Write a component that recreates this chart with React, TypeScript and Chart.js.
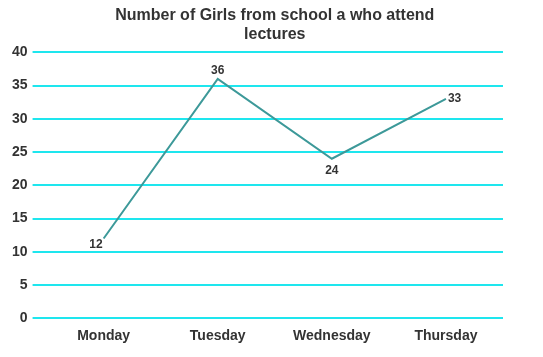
import React, { useEffect, useRef } from "react";
import { Chart, registerables } from "chart.js";

Chart.register(...registerables);

const titleLines = ["Number of Girls from school a who attend", "lectures"];
const days = ["Monday", "Tuesday", "Wednesday", "Thursday"];
const girls = [12, 36, 24, 33];
const labelPlacement = ["left", "top", "bottom", "right"];

const textColor = "#333333";
const fontFamily = "'Liberation Sans', Arial, sans-serif";

const valueLabels = {
  id: "valueLabels",
  afterDatasetsDraw(chart: any) {
    const ctx = chart.ctx;
    const meta = chart.getDatasetMeta(0);
    ctx.save();
    ctx.font = `bold 12px ${fontFamily}`;
    ctx.fillStyle = textColor;
    meta.data.forEach((pt: any, i: number) => {
      const v = String(chart.data.datasets[0].data[i]);
      const p = labelPlacement[i];
      let x = pt.x;
      let y = pt.y;
      if (p === "left") {
        ctx.textAlign = "right";
        ctx.textBaseline = "middle";
        x -= 1;
        y += 6;
      } else if (p === "top") {
        ctx.textAlign = "center";
        ctx.textBaseline = "bottom";
        y -= 2;
      } else if (p === "bottom") {
        ctx.textAlign = "center";
        ctx.textBaseline = "top";
        y += 6;
      } else {
        ctx.textAlign = "left";
        ctx.textBaseline = "middle";
        x += 2;
      }
      ctx.fillText(v, x, y);
    });
    ctx.restore();
  },
};

export default function App() {
  const ref = useRef<HTMLCanvasElement>(null);
  useEffect(() => {
    document.body.style.margin = "0";
    const chart = new Chart(ref.current!, {
      type: "line",
      data: {
        labels: days,
        datasets: [
          {
            data: girls,
            borderColor: "#3d9999",
            borderWidth: 2,
            pointRadius: 0,
            tension: 0,
            fill: false,
          },
        ],
      },
      options: {
        animation: false,
        responsive: false,
        layout: { padding: { left: 7, right: 40, top: 0, bottom: 10 } },
        plugins: {
          legend: { display: false },
          tooltip: { enabled: false },
          title: {
            display: true,
            fullSize: false,
            text: titleLines,
            color: textColor,
            font: { family: fontFamily, size: 16, weight: "bold", lineHeight: 1.2 },
            padding: { top: 6, bottom: 8 },
          },
        },
        scales: {
          x: {
            offset: true,
            grid: { display: false },
            border: { display: false },
            ticks: {
              color: textColor,
              font: { family: fontFamily, size: 14, weight: "bold" },
              padding: 2,
            },
          },
          y: {
            min: 0,
            max: 40,
            border: { display: false },
            grid: { color: "#1ee6ee", lineWidth: 2, tickLength: 14, tickColor: "#1ee6ee" },
            ticks: {
              stepSize: 5,
              color: textColor,
              font: { family: fontFamily, size: 14, weight: "bold" },
              padding: 5,
            },
          },
        },
      },
      plugins: [valueLabels],
    });
    return () => chart.destroy();
  }, []);
  return <canvas ref={ref} width={543} height={357} style={{ display: "block" }} />;
}
